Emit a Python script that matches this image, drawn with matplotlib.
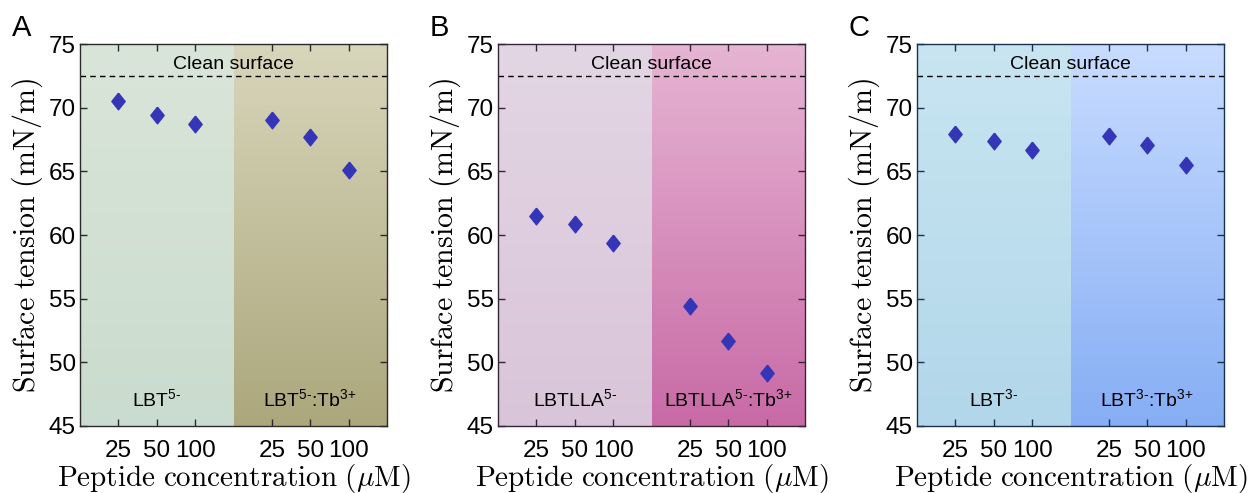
import numpy as np
import matplotlib
matplotlib.use("Agg")
import matplotlib.pyplot as plt
from matplotlib.colors import LinearSegmentedColormap

plt.rcParams['font.family'] = ['Liberation Sans', 'DejaVu Sans']
plt.rcParams['mathtext.fontset'] = 'cm'
# sans maths for the group labels (picked per text with math_fontfamily)
plt.rcParams['mathtext.rm'] = 'Liberation Sans'
plt.rcParams['mathtext.it'] = 'Liberation Sans:italic'
plt.rcParams['mathtext.bf'] = 'Liberation Sans:bold'

# data
conc_labels = ['25', '50', '100', '25', '50', '100']
x_pos = [1, 2, 3, 5, 6, 7]
clean_surface = 72.5

tension_A = [70.5, 69.4, 68.7, 69.0, 67.7, 65.1]
tension_B = [61.5, 60.9, 59.4, 54.4, 51.7, 49.2]
tension_C = [67.9, 67.4, 66.7, 67.8, 67.1, 65.5]

groups_A = [r'LBT$^{5\text{-}}$', r'LBT$^{5\text{-}}$:Tb$^{3\text{+}}$']
groups_B = [r'LBTLLA$^{5\text{-}}$', r'LBTLLA$^{5\text{-}}$:Tb$^{3\text{+}}$']
groups_C = [r'LBT$^{3\text{-}}$', r'LBT$^{3\text{-}}$:Tb$^{3\text{+}}$']

# (top, bottom) colours of each background half
bg_A = [('#d9e5d8', '#cadccf'), ('#d8d6bb', '#aca77c')]
bg_B = [('#e3d6e4', '#d9c5d9'), ('#e6b5d3', '#c86aa6')]
bg_C = [('#c8e5f1', '#b2d7ea'), ('#c8dcff', '#86aef4')]
spine_cols = ['#2a2a2a', '#352535', '#1c3050']

diamond = [(0, 1), (0.8, 0), (0, -1), (-0.8, 0), (0, 1)]

panels = [('A', tension_A, groups_A, bg_A),
          ('B', tension_B, groups_B, bg_B),
          ('C', tension_C, groups_C, bg_C)]

fig = plt.figure(figsize=(12.52, 4.93), dpi=100)
lefts = [80, 498, 917]
W, H = 1252, 493

for (letter, vals, groups, bg), lx, sc in zip(panels, lefts, spine_cols):
    ax = fig.add_axes([lx / W, 1 - 426 / H, 307 / W, 382 / H])
    ax.set_xlim(0, 8)
    ax.set_ylim(45, 75)
    # gradient backgrounds
    for i, (c_top, c_bot) in enumerate(bg):
        cmap = LinearSegmentedColormap.from_list('g', [c_bot, c_top])
        grad = np.linspace(0, 1, 256).reshape(-1, 1)
        ax.imshow(grad, cmap=cmap, origin='lower', aspect='auto',
                  extent=(4 * i, 4 * i + 4, 45, 75), zorder=0)
    ax.axhline(clean_surface, color='black', ls=(0, (4, 3)), lw=1.0, zorder=2)
    ax.text(4, 72.75, 'Clean surface', ha='center', va='bottom', fontsize=14)
    ax.plot(x_pos, vals, ls='none', marker=diamond, ms=12, color='#3535b8', zorder=3)
    for gx, g in zip([2, 6], groups):
        ax.text(gx, 46.25, g, ha='center', va='bottom', fontsize=14,
                math_fontfamily='custom')

    ax.set_xticks(x_pos)
    ax.set_xticklabels(conc_labels)
    ax.set_yticks([45, 50, 55, 60, 65, 70, 75])
    ax.tick_params(direction='in', top=True, right=True, labelsize=17.5,
                   length=5, width=1, pad=10, color=sc)
    ax.tick_params(axis='y', pad=3)
    for s in ax.spines.values():
        s.set_linewidth(1.0)
        s.set_color(sc)
    ax.set_xlabel(r'$\mathrm{Peptide\ concentration\ (\mu M)}$', fontsize=21, labelpad=0)
    ax.set_ylabel(r'$\mathrm{Surface\ tension\ (mN/m)}$', fontsize=21.5, labelpad=3)
    fig.text((lx - 68) / W, 1 - 28 / H, letter, fontsize=21, ha='left', va='center')

fig.savefig('out.png', dpi=100)
